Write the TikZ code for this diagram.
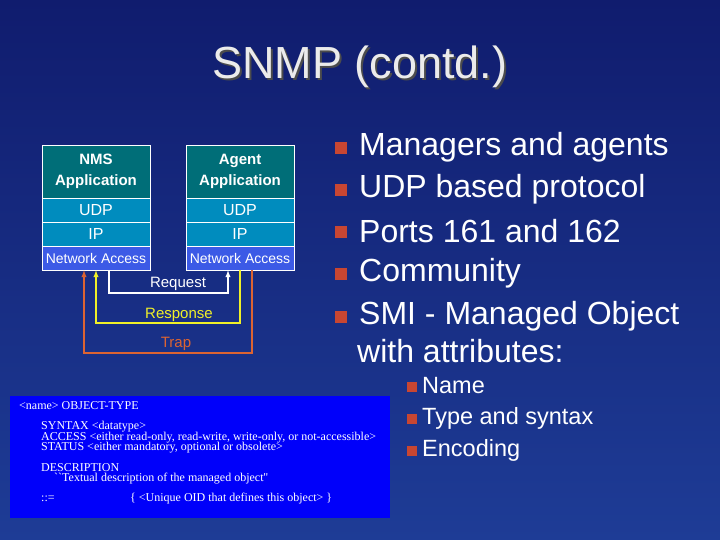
\documentclass[tikz,border=0pt]{standalone}
\usepackage{fontspec}
\setmainfont{Liberation Sans}
\newfontfamily\tms{Liberation Serif}
\definecolor{bgA}{RGB}{16,28,110}
\definecolor{bgB}{RGB}{30,60,150}
\definecolor{teal}{RGB}{0,110,120}
\definecolor{cyanb}{RGB}{0,140,190}
\definecolor{nablue}{RGB}{60,90,230}
\definecolor{bul}{RGB}{200,70,50}
\definecolor{trapc}{RGB}{220,100,50}
\definecolor{respc}{RGB}{240,240,40}
\definecolor{codebg}{RGB}{0,0,250}
\begin{document}
\begin{tikzpicture}[x=1pt,y=-1pt,
  lay/.style={draw=white,line width=0.6pt,minimum width=108pt,inner sep=0pt,text=white},
  bt/.style={anchor=west,text=white,font=\fontsize{32}{36}\selectfont,inner sep=0pt},
  sbt/.style={anchor=west,text=white,font=\fontsize{23.5}{27}\selectfont,inner sep=0pt},
  lab/.style={font=\fontsize{15}{18}\selectfont,inner sep=0pt},
  codeln/.style={anchor=west,text=white,font=\tms\fontsize{12}{14}\selectfont,inner sep=0pt}]
\useasboundingbox (0,0) rectangle (720,540);
\shade[top color=bgA,bottom color=bgB] (0,0) rectangle (720,540);
\node (title) [text=black!8,font=\fontsize{45}{50}\selectfont] at (360,68) {\rlap{\raisebox{-1.5pt}{\kern2pt\color{black!70}SNMP (contd.)}}SNMP (contd.)};
% stacks
\foreach \n/\x/\t in {nms/96/NMS, ag/240/Agent}{
  \node (\n app) [lay,fill=teal,minimum height=53pt,font=\bfseries\fontsize{15}{21}\selectfont,align=center] at (\x,171.5) {\t\\Application};
  \node (\n udp) [lay,fill=cyanb,minimum height=24pt,font=\fontsize{16}{18}\selectfont] at (\x,210) {UDP};
  \node (\n ip) [lay,fill=cyanb,minimum height=24pt,font=\fontsize{16}{18}\selectfont] at (\x,234) {IP};
  \node (\n na) [lay,fill=nablue,minimum height=24pt,font=\fontsize{14}{16}\selectfont] at (\x,258) {Network Access};
}
\draw[white,line width=1.3pt,-latex] (nmsna.south -| 109,0) |- (178,293) -| (agna.south -| 228,0);
\draw[respc,line width=1.3pt,-latex] (agna.south -| 240,0) |- (179,323) -| (nmsna.south -| 96,0);
\draw[trapc,line width=1.3pt,-latex] (agna.south -| 252,0) |- (176,353) -| (nmsna.south -| 84,0);
\node (req) [lab,text=white] at (178,284) {Request};
\node (resp) [lab,text=respc] at (179,315) {Response};
\node (trap) [lab,text=trapc] at (176,344) {Trap};
% bullets
\foreach \y/\t [count=\i] in {147/Managers and agents,189/UDP based protocol,231/Ports 161 and 162,273/Community,316/SMI - Managed Object}{
  \fill[bul] (335,\y-5) rectangle (347,\y+7);
  \node (b\i) [bt] at (359,\y) {\t};
}
\node (b6) [bt] at (357,351) {with attributes:};
\foreach \y/\t [count=\i] in {386/Name,418/Type and syntax,450/Encoding}{
  \fill[bul] (407,\y-4) rectangle (417,\y+6);
  \node (s\i) [sbt] at (422,\y) {\t};
}
% code box
\fill[codebg] (10,396) rectangle (390,518);
\node (c1) [codeln] at (19,406) {<name> OBJECT-TYPE};
\node (c2) [codeln] at (41,427) {SYNTAX <datatype>};
\node (c3) [codeln] at (41,437.5) {ACCESS <either read-only, read-write, write-only, or not-accessible>};
\node (c4) [codeln] at (41,448) {STATUS <either mandatory, optional or obsolete>};
\node (c5) [codeln] at (41,468) {DESCRIPTION};
\node (c6) [codeln] at (54,479) {``Textual description of the managed object''};
\node (c7) [codeln] at (41,499) {::=};
\node (c8) [codeln] at (130,499) {\{ <Unique OID that defines this object> \}};
\end{tikzpicture}
\end{document}
